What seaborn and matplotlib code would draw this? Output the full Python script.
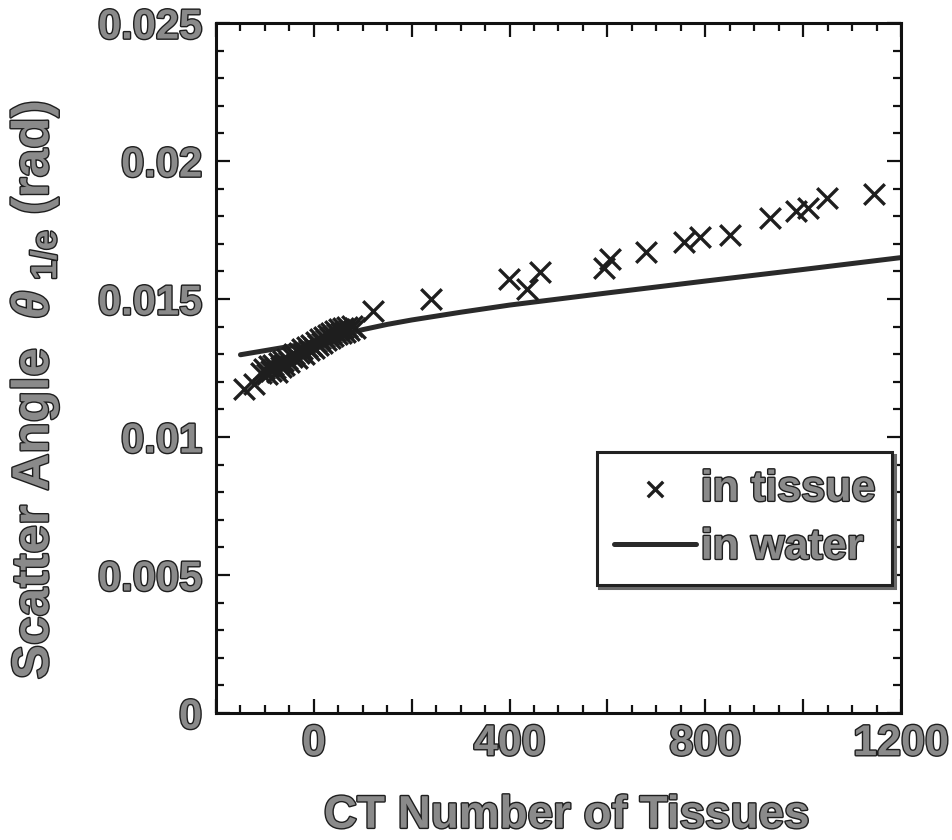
import numpy as np
import pandas as pd
import seaborn as sns
import matplotlib
matplotlib.use("Agg")
import matplotlib.pyplot as plt
import matplotlib.patheffects as pe
from matplotlib.ticker import MultipleLocator, FuncFormatter

# ---- data ----
tissue_ct = [-142, -122, -108, -102, -96, -92, -88, -84, -80, -76, -72, -68, -64, -60,
             -55, -50, -45, -40, -35, -30, -25, -20, -15, -10, -5, 0, 4, 8, 12, 16,
             20, 24, 28, 32, 36, 40, 44, 48, 52, 56, 60, 64, 68, 72, 78, 84, 121,
             239, 399, 436, 462, 592, 605, 679, 756, 790, 850, 933, 986, 1009, 1048, 1145]
tissue_theta = [0.01174, 0.01192, 0.01232, 0.01245, 0.01228, 0.01258, 0.01240, 0.01262,
                0.01250, 0.01235, 0.01268, 0.01255, 0.01275, 0.01262, 0.01282, 0.01270,
                0.01290, 0.01300, 0.01285, 0.01305, 0.01318, 0.01300, 0.01325, 0.01315,
                0.01335, 0.01322, 0.01345, 0.01335, 0.01355, 0.01342, 0.01362, 0.01350,
                0.01370, 0.01358, 0.01378, 0.01365, 0.01385, 0.01372, 0.01390, 0.01378,
                0.01395, 0.01382, 0.01398, 0.01388, 0.01402, 0.01395, 0.01457,
                0.01499, 0.01571, 0.01537, 0.01597, 0.01613, 0.01645, 0.01670, 0.01706,
                0.01725, 0.01731, 0.01794, 0.01820, 0.01830, 0.01866, 0.01882]

water_ct = [-150, -100, -50, 0, 50, 100, 150, 200, 300, 400, 600, 800, 1000, 1200]
water_theta = [0.01298, 0.01313, 0.01328, 0.01344, 0.01366, 0.01389, 0.01408, 0.01424,
               0.01452, 0.01478, 0.01522, 0.01565, 0.01607, 0.01650]

x_tick_labels = {0: "0", 400: "400", 800: "800", 1200: "1200"}

df_t = pd.DataFrame({"ct": tissue_ct, "theta": tissue_theta})
df_w = pd.DataFrame({"ct": water_ct, "theta": water_theta})

sns.set_style("ticks")
plt.rcParams["font.family"] = ["Liberation Sans", "DejaVu Sans"]
plt.rcParams["font.weight"] = "bold"
plt.rcParams["mathtext.fontset"] = "custom"
plt.rcParams["mathtext.it"] = "Liberation Sans:italic:bold"
plt.rcParams["mathtext.rm"] = "Liberation Sans:bold"
plt.rcParams["mathtext.bf"] = "Liberation Sans:bold"

TXT = "#8a8a8a"
effects = [pe.Stroke(linewidth=2.0, foreground="#1e1e1e"), pe.Normal()]

fig = plt.figure(figsize=(9.53, 8.40), dpi=100)
ax = fig.add_axes([216 / 953, 1 - 713 / 840, (901 - 216) / 953, (713 - 23) / 840])

sns.lineplot(data=df_w, x="ct", y="theta", ax=ax, color="#2a2a2a", linewidth=3.6,
             label="in water", zorder=2)
sns.scatterplot(data=df_t, x="ct", y="theta", ax=ax, marker="x", s=220, color="#1e1e1e",
                linewidth=2.4, label="in tissue", zorder=3)

ax.set_xlim(-200, 1200)
ax.set_ylim(0, 0.025)
ax.xaxis.set_major_locator(MultipleLocator(200))
ax.xaxis.set_minor_locator(MultipleLocator(50))
ax.yaxis.set_major_locator(MultipleLocator(0.005))
ax.yaxis.set_minor_locator(MultipleLocator(0.001))
ax.xaxis.set_major_formatter(FuncFormatter(lambda v, p: x_tick_labels.get(int(round(v)), "")))
ax.yaxis.set_major_formatter(FuncFormatter(lambda v, p: "0" if abs(v) < 1e-9 else ("%g" % v)))

ax.tick_params(which="both", direction="in", top=True, right=True, width=1.6, color="#111")
ax.tick_params(which="major", length=10)
ax.tick_params(which="minor", length=6)
ax.tick_params(axis="x", which="major", pad=8)
ax.tick_params(axis="y", which="major", pad=10)
for sp in ax.spines.values():
    sp.set_visible(True)
    sp.set_linewidth(2.2)
    sp.set_color("#111")

for lab in ax.get_xticklabels():
    lab.set_fontsize(31)
for lab in ax.get_yticklabels():
    lab.set_fontsize(30)
for lab in ax.get_xticklabels() + ax.get_yticklabels():
    lab.set_fontweight("bold")
    lab.set_color(TXT)
    lab.set_path_effects(effects)

ax.set_xlabel("CT Number of Tissues", fontsize=33, fontweight="bold", color=TXT,
              path_effects=effects)
ax.xaxis.set_label_coords((567 - 216) / 685, -0.117)
ax.set_ylabel(r"Scatter Angle  $\theta_{\ \mathregular{1/e}}$ (rad)", fontsize=37,
              fontweight="bold", color=TXT, path_effects=effects)
ax.yaxis.set_label_coords(-0.226, 0.468)

h, l = ax.get_legend_handles_labels()
order = [l.index("in tissue"), l.index("in water")]
leg = ax.legend([h[i] for i in order], [l[i] for i in order],
                loc="lower right", bbox_to_anchor=((892 - 216) / 685, (713 - 585) / 690),
                fontsize=31, frameon=True, fancybox=False,
                shadow={"color": "#6a6a6a", "alpha": 1},
                edgecolor="#222", facecolor="white", framealpha=1,
                handlelength=1.9, handletextpad=0.12, labelspacing=0.42,
                borderpad=0.4, borderaxespad=0, markerscale=0.75)
leg.get_frame().set_linewidth(2.2)
for t in leg.get_texts():
    t.set_color(TXT)
    t.set_fontweight("bold")
    t.set_path_effects(effects)

fig.savefig("out.png", dpi=100)
